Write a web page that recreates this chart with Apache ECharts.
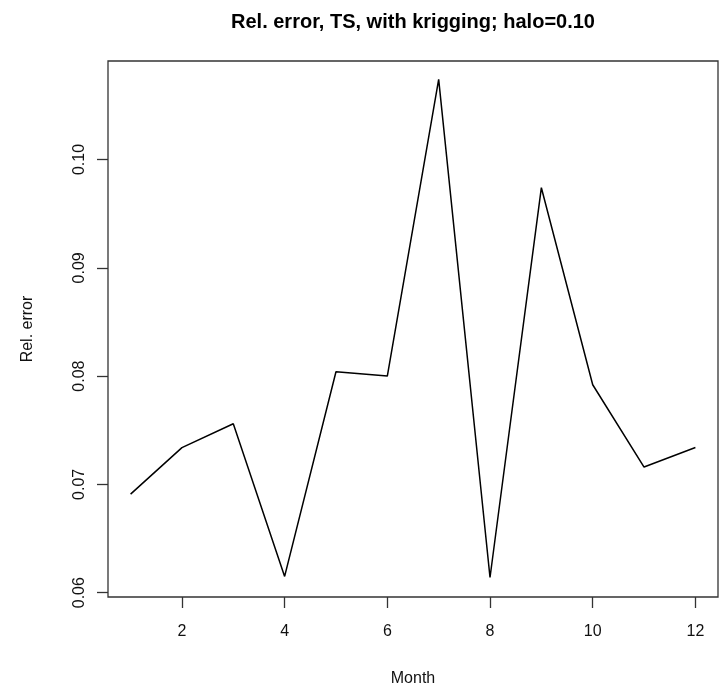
<!DOCTYPE html>
<html>
<head>
<meta charset="utf-8">
<script src="https://cdn.jsdelivr.net/npm/echarts@6/dist/echarts.min.js"></script>
<style>
  html, body { margin: 0; padding: 0; background: #fff; }
  #chart { width: 721px; height: 692px; }
</style>
</head>
<body>
<div id="chart"></div>
<script>
// Monthly relative error (TS, with kriging, halo = 0.10)
const months = [1, 2, 3, 4, 5, 6, 7, 8, 9, 10, 11, 12];
const relError = [0.0691, 0.0734, 0.0756, 0.0615, 0.0804, 0.0800, 0.1074, 0.0614, 0.0974, 0.0792, 0.0716, 0.0734];

const xTicks = [2, 4, 6, 8, 10, 12];
const yTicks = [0.06, 0.07, 0.08, 0.09, 0.10];

const FONT = '"Liberation Sans", Arial, sans-serif';
const TEXT = '#111';

const chart = echarts.init(document.getElementById('chart'), null, { renderer: 'canvas' });

chart.setOption({
  animation: false,
  backgroundColor: '#fff',
  title: {
    text: 'Rel. error, TS, with krigging; halo=0.10',
    left: 408,
    top: 7,
    textAlign: 'center',
    textStyle: { fontFamily: FONT, fontWeight: 'bold', fontSize: 20, color: '#000' }
  },
  grid: {
    show: true,
    left: 108,
    right: 3,
    top: 61,
    bottom: 88,
    borderColor: '#333',
    borderWidth: 1.3,
    backgroundColor: 'transparent',
    containLabel: false
  },
  xAxis: {
    type: 'value',
    min: 0.56,
    max: 12.44,
    name: 'Month',
    nameLocation: 'middle',
    nameGap: 74,
    nameTextStyle: { fontFamily: FONT, fontSize: 16, color: TEXT },
    axisLine: { show: false },
    splitLine: { show: false },
    axisTick: { show: true, inside: false, length: 11, customValues: xTicks, lineStyle: { color: '#333', width: 1.3 } },
    axisLabel: { customValues: xTicks, margin: 27, fontFamily: FONT, fontSize: 16, color: TEXT }
  },
  yAxis: {
    type: 'value',
    min: 0.0596,
    max: 0.1091,
    name: 'Rel. error',
    nameLocation: 'middle',
    nameGap: 72,
    nameTextStyle: { fontFamily: FONT, fontSize: 16, color: TEXT },
    axisLine: { show: false },
    splitLine: { show: false },
    axisTick: { show: true, inside: false, length: 11, customValues: yTicks, lineStyle: { color: '#333', width: 1.3 } },
    axisLabel: {
      customValues: yTicks,
      rotate: 90,
      margin: 20,
      fontFamily: FONT,
      fontSize: 16,
      color: TEXT,
      formatter: v => v.toFixed(2)
    }
  },
  series: [{
    type: 'line',
    data: months.map((m, i) => [m, relError[i]]),
    showSymbol: false,
    symbol: 'none',
    lineStyle: { color: '#000', width: 1.5 },
    silent: true
  }]
});
</script>
</body>
</html>
